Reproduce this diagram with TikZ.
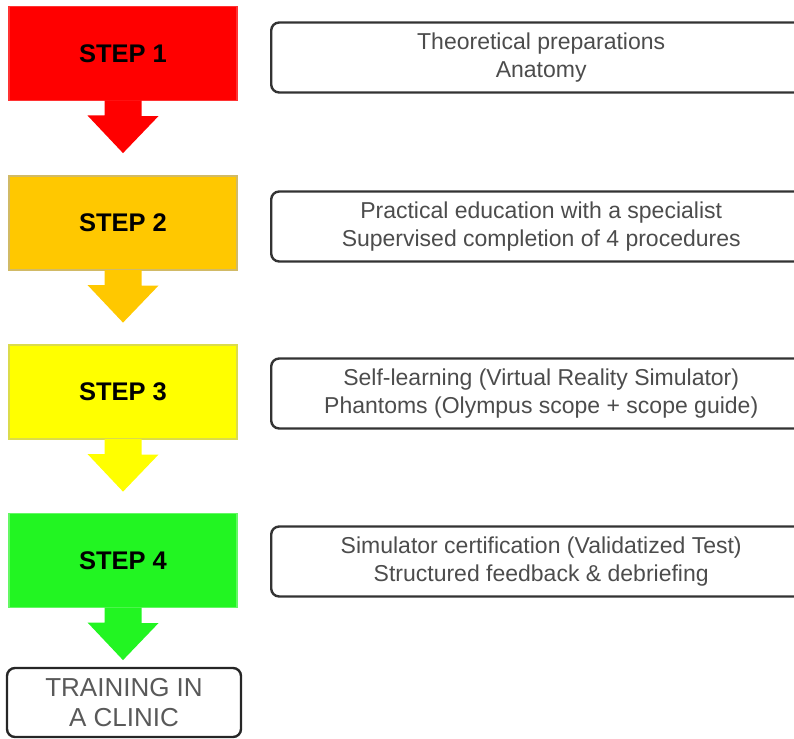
\documentclass[tikz,border=0pt]{standalone}
\usepackage{fontspec}
\setmainfont{Liberation Sans}
\begin{document}
\begin{tikzpicture}[x=1pt,y=-1pt,
  stepbox/.style={minimum width=228pt,minimum height=94pt,inner sep=0pt,
    line width=1.2pt,font=\fontsize{25.5}{28}\selectfont\bfseries,text=black},
  infobox/.style={draw=black!80,line width=2.4pt,rounded corners=8pt,
    minimum width=540pt,minimum height=70pt,inner sep=0pt,text=black!70,
    align=center,font=\fontsize{23}{28}\selectfont,anchor=west},
  endbox/.style={draw=black!85,line width=2.4pt,rounded corners=8pt,
    minimum width=234pt,minimum height=69pt,inner sep=0pt,text=black!65,
    align=center,font=\fontsize{26}{30}\selectfont}]
\useasboundingbox (0,0) rectangle (794,738);
\definecolor{cred}{HTML}{FF0000}
\definecolor{corange}{HTML}{FFC800}
\definecolor{cyellow}{HTML}{FFFF00}
\definecolor{cgreen}{HTML}{22F522}

% step boxes
\node[stepbox,fill=cred,draw=cred!80!white] (s1) at (123,53.5) {STEP 1};
\node[stepbox,fill=corange,draw=corange!70!black!60!white] (s2) at (123,223) {STEP 2};
\node[stepbox,fill=cyellow,draw=cyellow!80!black!70!white] (s3) at (123,392) {STEP 3};
\node[stepbox,fill=cgreen,draw=cgreen!70!white] (s4) at (123,560.5) {STEP 4};

% block arrow under each step box
\foreach \s/\c in {s1/cred,s2/corange,s3/cyellow,s4/cgreen}{
  \fill[\c] ([xshift=-18.5pt,yshift=0.6pt]\s.south) -- ++(0,15) -- ++(-17,0)
    -- ([yshift=-52pt]\s.south) -- ++(35.5,-37) -- ++(-17,0) -- ++(0,-15.6) -- cycle;
}

% descriptions
\node[infobox] (d1) at (270,57.5)
  {Theoretical preparations\\Anatomy};
\node[infobox] (d2) at (270,226.5)
  {Practical education with a specialist\\Supervised completion of 4 procedures};
\node[infobox] (d3) at (270,393.5)
  {Self-learning (Virtual Reality Simulator)\\Phantoms (Olympus scope + scope guide)};
\node[infobox] (d4) at (270,561.5)
  {Simulator certification (Validatized Test)\\Structured feedback \& debriefing};

% final stage
\node[endbox] (clinic) at (124,702.5) {TRAINING IN\\A CLINIC};
\end{tikzpicture}
\end{document}
